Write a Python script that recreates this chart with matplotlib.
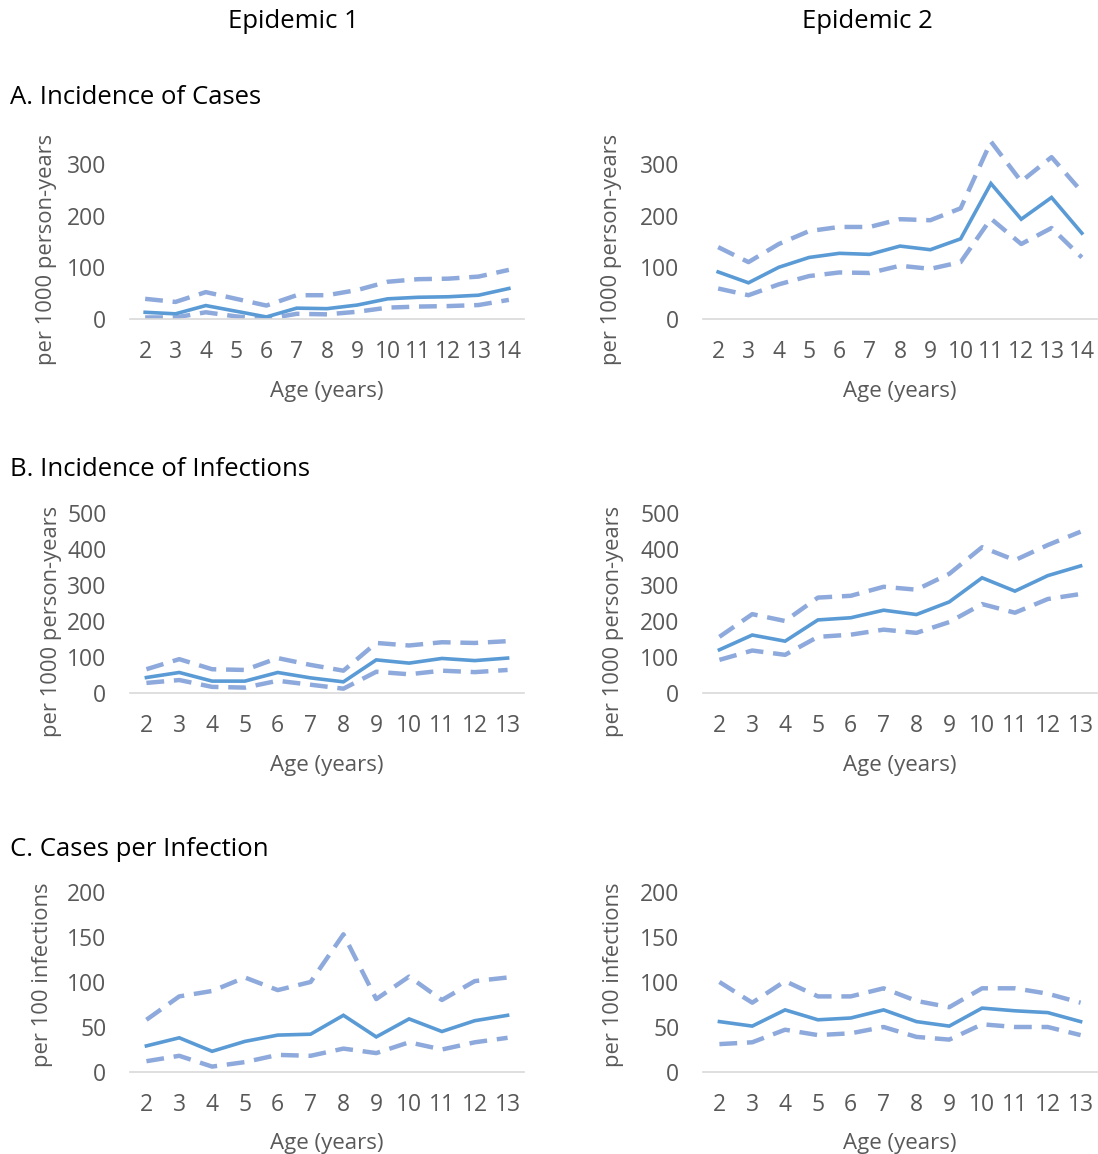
import numpy as np
import matplotlib
matplotlib.use("Agg")
import matplotlib.pyplot as plt

plt.rcParams["font.family"] = ["Open Sans", "DejaVu Sans"]

# ages for each row
ages_a = list(range(2, 15))
ages_bc = list(range(2, 14))

# A. incidence of cases (per 1000 person-years)
a1_est = [13, 10, 26, 15, 4, 21, 20, 27, 39, 42, 43, 46, 59]
a1_hi = [39, 33, 52, 39, 26, 46, 46, 56, 72, 77, 78, 82, 95]
a1_lo = [3, 3, 13, 5, 0, 10, 9, 14, 22, 24, 25, 27, 37]
a2_est = [91, 70, 100, 119, 127, 125, 141, 134, 155, 262, 193, 235, 166]
a2_hi = [139, 110, 145, 170, 178, 178, 193, 191, 214, 343, 266, 313, 246]
a2_lo = [59, 46, 67, 83, 90, 89, 103, 97, 110, 194, 145, 176, 119]

# B. incidence of infections (per 1000 person-years)
b1_est = [43, 57, 33, 33, 57, 42, 31, 92, 83, 96, 90, 97]
b1_hi = [66, 94, 66, 64, 97, 78, 62, 139, 132, 141, 139, 144]
b1_lo = [28, 36, 17, 15, 34, 23, 12, 59, 52, 62, 58, 64]
b2_est = [120, 161, 144, 203, 209, 230, 218, 253, 320, 283, 326, 353]
b2_hi = [156, 219, 200, 265, 270, 295, 287, 331, 405, 369, 411, 448]
b2_lo = [92, 118, 106, 156, 162, 176, 167, 197, 247, 223, 261, 275]

# C. cases per infection (per 100 infections)
c1_est = [29, 38, 23, 34, 41, 42, 63, 39, 59, 45, 57, 63]
c1_hi = [58, 84, 90, 105, 91, 100, 153, 81, 106, 80, 101, 105]
c1_lo = [12, 18, 6, 11, 19, 18, 26, 21, 33, 25, 33, 38]
c2_est = [56, 51, 69, 58, 60, 69, 56, 51, 71, 68, 66, 56]
c2_hi = [100, 77, 101, 84, 84, 93, 79, 72, 93, 93, 87, 77]
c2_lo = [31, 33, 47, 41, 43, 50, 39, 36, 53, 50, 50, 41]

W, H = 1098, 1154
TXT = "#595959"
MAIN = "#5B9BD5"
BAND = "#8EA9DB"

fig = plt.figure(figsize=(W / 100, H / 100), dpi=100)


def rect(left, right, top, bottom):
    return [left / W, 1 - bottom / H, (right - left) / W, (bottom - top) / H]


def panel(box, ages, est, hi, lo, ymax, yticks, ylab, ylab_xy):
    ax = fig.add_axes(rect(*box))
    ax.plot(ages, hi, color=BAND, lw=3.2, dashes=(4, 2.2), dash_capstyle="butt")
    ax.plot(ages, lo, color=BAND, lw=3.2, dashes=(4, 2.2), dash_capstyle="butt")
    ax.plot(ages, est, color=MAIN, lw=2.6, solid_joinstyle="miter")
    ax.set_xlim(ages[0] - 0.5, ages[-1] + 0.5)
    ax.set_ylim(0, ymax)
    ax.set_xticks(ages)
    ax.set_yticks(yticks)
    for s in ["top", "right", "left"]:
        ax.spines[s].set_visible(False)
    ax.spines["bottom"].set_color("#D9D9D9")
    ax.spines["bottom"].set_linewidth(1.2)
    ax.tick_params(length=0, labelsize=16.5, colors=TXT)
    ax.tick_params(axis="x", pad=15)
    ax.tick_params(axis="y", pad=17)
    ax.set_xlabel("Age (years)", fontsize=16, color=TXT, labelpad=12)
    ax.set_ylabel(ylab, fontsize=15.8, color=TXT, va="center")
    ax.yaxis.set_label_coords(*ylab_xy)
    return ax


pyl = "per 1000 person-years"
pinf = "per 100 infections"
tick_a = [0, 100, 200, 300]
tick_b = [0, 100, 200, 300, 400, 500]
tick_c = [0, 50, 100, 150, 200]

panel((130, 524, 138, 319), ages_a, a1_est, a1_hi, a1_lo, 350, tick_a, pyl, (-0.211, 0.387))
panel((703, 1097, 138, 319), ages_a, a2_est, a2_hi, a2_lo, 350, tick_a, pyl, (-0.231, 0.387))
panel((130, 524, 513, 693), ages_bc, b1_est, b1_hi, b1_lo, 500, tick_b, pyl, (-0.198, 0.40))
panel((703, 1097, 513, 693), ages_bc, b2_est, b2_hi, b2_lo, 500, tick_b, pyl, (-0.226, 0.40))
panel((130, 524, 892, 1072), ages_bc, c1_est, c1_hi, c1_lo, 200, tick_c, pinf, (-0.223, 0.539))
panel((703, 1097, 892, 1072), ages_bc, c2_est, c2_hi, c2_lo, 200, tick_c, pinf, (-0.226, 0.539))

# column and row headings
head = dict(fontsize=18.5, color="black", va="center")
fig.text(293 / W, 1 - 21 / H, "Epidemic 1", ha="center", **head)
fig.text(867 / W, 1 - 21 / H, "Epidemic 2", ha="center", **head)
fig.text(10 / W, 1 - 97 / H, "A. Incidence of Cases", **head)
fig.text(10 / W, 1 - 470 / H, "B. Incidence of Infections", **head)
fig.text(10 / W, 1 - 849 / H, "C. Cases per Infection", **head)

fig.savefig("out.png", dpi=100, facecolor="white")
